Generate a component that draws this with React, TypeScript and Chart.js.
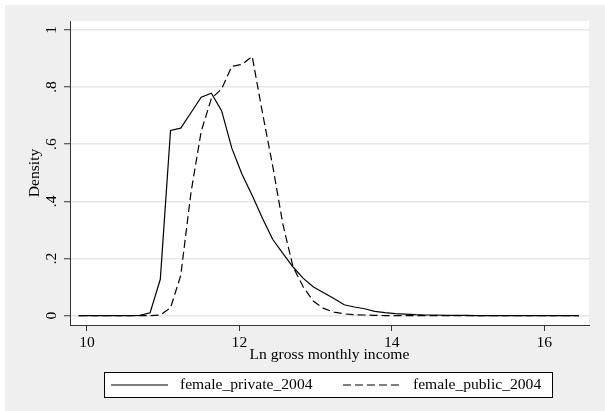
import React, { useEffect, useRef } from "react";
import { Chart, registerables } from "chart.js";

Chart.register(...registerables);

const xValues = [
  9.89, 10.024, 10.158, 10.292, 10.426, 10.56, 10.694, 10.828, 10.962, 11.096,
  11.23, 11.364, 11.498, 11.632, 11.766, 11.9, 12.034, 12.168, 12.302, 12.436,
  12.57, 12.704, 12.838, 12.972, 13.106, 13.24, 13.374, 13.508, 13.642, 13.776,
  13.91, 14.044, 14.178, 14.312, 14.446, 14.58, 14.714, 14.848, 14.982, 15.116,
  15.25, 15.384, 15.518, 15.652, 15.786, 15.92, 16.054, 16.188, 16.322, 16.456,
];

const privateDensity = [
  0, 0, 0, 0, 0, 0, 0.001, 0.01, 0.127, 0.648,
  0.656, 0.71, 0.764, 0.778, 0.717, 0.586, 0.495, 0.42, 0.341, 0.267,
  0.218, 0.17, 0.13, 0.1, 0.08, 0.06, 0.038, 0.03, 0.024, 0.015,
  0.01, 0.007, 0.005, 0.003, 0.002, 0.002, 0.001, 0.001, 0.001, 0,
  0, 0, 0, 0, 0, 0, 0, 0, 0, 0,
];

const publicDensity = [
  0, 0, 0, 0, 0, 0, 0, 0, 0.002, 0.027,
  0.14, 0.43, 0.644, 0.76, 0.793, 0.872, 0.879, 0.907, 0.71, 0.525,
  0.32, 0.17, 0.1, 0.05, 0.025, 0.012, 0.006, 0.003, 0.002, 0.001,
  0, 0, 0, 0, 0, 0, 0, 0, 0, 0,
  0, 0, 0, 0, 0, 0, 0, 0, 0, 0,
];

const seriesLabels = ["female_private_2004", "female_public_2004"];
const yTicks = [0, 0.2, 0.4, 0.6, 0.8, 1];
const yTickLabels = ["0", ".2", ".4", ".6", ".8", "1"];
const xTicks = [10, 12, 14, 16];
const xTitle = "Ln gross monthly income";
const yTitle = "Density";

const FONT = '"Liberation Serif", "DejaVu Serif", serif';
const FONT_SIZE = 15.6;

const decorPlugin = {
  id: "decor",
  beforeDraw(chart: any) {
    const { ctx, width, height, chartArea } = chart;
    ctx.save();
    ctx.fillStyle = "#ffffff";
    ctx.fillRect(0, 0, width, height);
    ctx.fillStyle = "#efefef";
    ctx.fillRect(5, 5, width - 5, height - 5);
    ctx.fillStyle = "#ffffff";
    ctx.fillRect(
      chartArea.left,
      chartArea.top,
      chartArea.right - chartArea.left,
      chartArea.bottom - chartArea.top
    );
    ctx.restore();
  },
  afterDraw(chart: any) {
    const { ctx } = chart;
    const yScale = chart.scales.y;
    ctx.save();
    // rotated y tick labels
    ctx.font = `${FONT_SIZE}px ${FONT}`;
    ctx.fillStyle = "#000";
    ctx.textAlign = "center";
    ctx.textBaseline = "middle";
    yTicks.forEach((v, i) => {
      const py = yScale.getPixelForValue(v);
      ctx.save();
      ctx.translate(51.5, py);
      ctx.rotate(-Math.PI / 2);
      ctx.fillText(yTickLabels[i], 0, 0);
      ctx.restore();
    });

    // legend box
    ctx.fillStyle = "#ffffff";
    ctx.fillRect(104, 372, 449, 26);
    ctx.strokeStyle = "#000";
    ctx.lineWidth = 1;
    ctx.setLineDash([]);
    ctx.strokeRect(104.5, 372.5, 448, 25);

    const sampleX = [111, 343];
    const textX = [180, 413];
    const ly = 385;
    chart.data.datasets.forEach((ds: any, i: number) => {
      ctx.beginPath();
      ctx.setLineDash(ds.borderDash || []);
      ctx.strokeStyle = ds.borderColor;
      ctx.lineWidth = ds.borderWidth;
      ctx.moveTo(sampleX[i], ly);
      ctx.lineTo(sampleX[i] + 57, ly);
      ctx.stroke();
      ctx.setLineDash([]);
      ctx.fillStyle = "#000";
      ctx.textAlign = "left";
      ctx.textBaseline = "middle";
      ctx.fillText(ds.label, textX[i], ly);
    });
    ctx.restore();
  },
};

export default function App() {
  const canvasRef = useRef<HTMLCanvasElement | null>(null);

  useEffect(() => {
    if (!canvasRef.current) return;
    const chart = new Chart(canvasRef.current, {
      type: "line",
      data: {
        datasets: [
          {
            label: seriesLabels[0],
            data: xValues.map((x, i) => ({ x, y: privateDensity[i] })),
            borderColor: "#000",
            borderWidth: 1.2,
            borderDash: [],
            pointRadius: 0,
            tension: 0,
            fill: false,
          },
          {
            label: seriesLabels[1],
            data: xValues.map((x, i) => ({ x, y: publicDensity[i] })),
            borderColor: "#000",
            borderWidth: 1.2,
            borderDash: [8, 4],
            pointRadius: 0,
            tension: 0,
            fill: false,
          },
        ],
      },
      options: {
        responsive: false,
        animation: false,
        devicePixelRatio: 1,
        layout: { padding: { top: 21, right: 16, left: 0, bottom: 0 } },
        plugins: {
          legend: { display: false },
          tooltip: { enabled: false },
        },
        scales: {
          x: {
            type: "linear",
            min: 9.777,
            max: 16.587,
            afterBuildTicks: (scale: any) => {
              scale.ticks = xTicks.map((v) => ({ value: v }));
            },
            afterFit: (scale: any) => {
              scale.height = 86;
            },
            ticks: {
              font: { family: FONT, size: FONT_SIZE },
              color: "#000",
              padding: 3,
              maxRotation: 0,
              autoSkip: false,
              callback: (v: any) => String(v),
            },
            grid: {
              drawOnChartArea: false,
              drawTicks: true,
              tickLength: 6,
              tickColor: "#333",
              tickWidth: 1,
            },
            border: { display: true, color: "#333", width: 1 },
            title: {
              display: true,
              text: xTitle,
              font: { family: FONT, size: FONT_SIZE },
              color: "#000",
              padding: { top: 0, bottom: 47 },
            },
          },
          y: {
            type: "linear",
            min: -0.033,
            max: 1.031,
            afterBuildTicks: (scale: any) => {
              scale.ticks = yTicks.map((v) => ({ value: v }));
            },
            afterFit: (scale: any) => {
              scale.width = 70;
            },
            ticks: { display: false },
            grid: {
              color: "#e6e6e6",
              lineWidth: 1.5,
              drawTicks: true,
              tickLength: 6,
              tickColor: "#333",
              tickWidth: 1,
            },
            border: { display: true, color: "#333", width: 1 },
            title: {
              display: true,
              text: yTitle,
              font: { family: FONT, size: FONT_SIZE },
              color: "#000",
              padding: { top: 26, bottom: 0 },
            },
          },
        },
      } as any,
      plugins: [decorPlugin],
    });
    return () => chart.destroy();
  }, []);

  return (
    <div style={{ position: "fixed", left: 0, top: 0, width: 605, height: 411 }}>
      <canvas ref={canvasRef} width={605} height={411} style={{ display: "block" }} />
    </div>
  );
}
